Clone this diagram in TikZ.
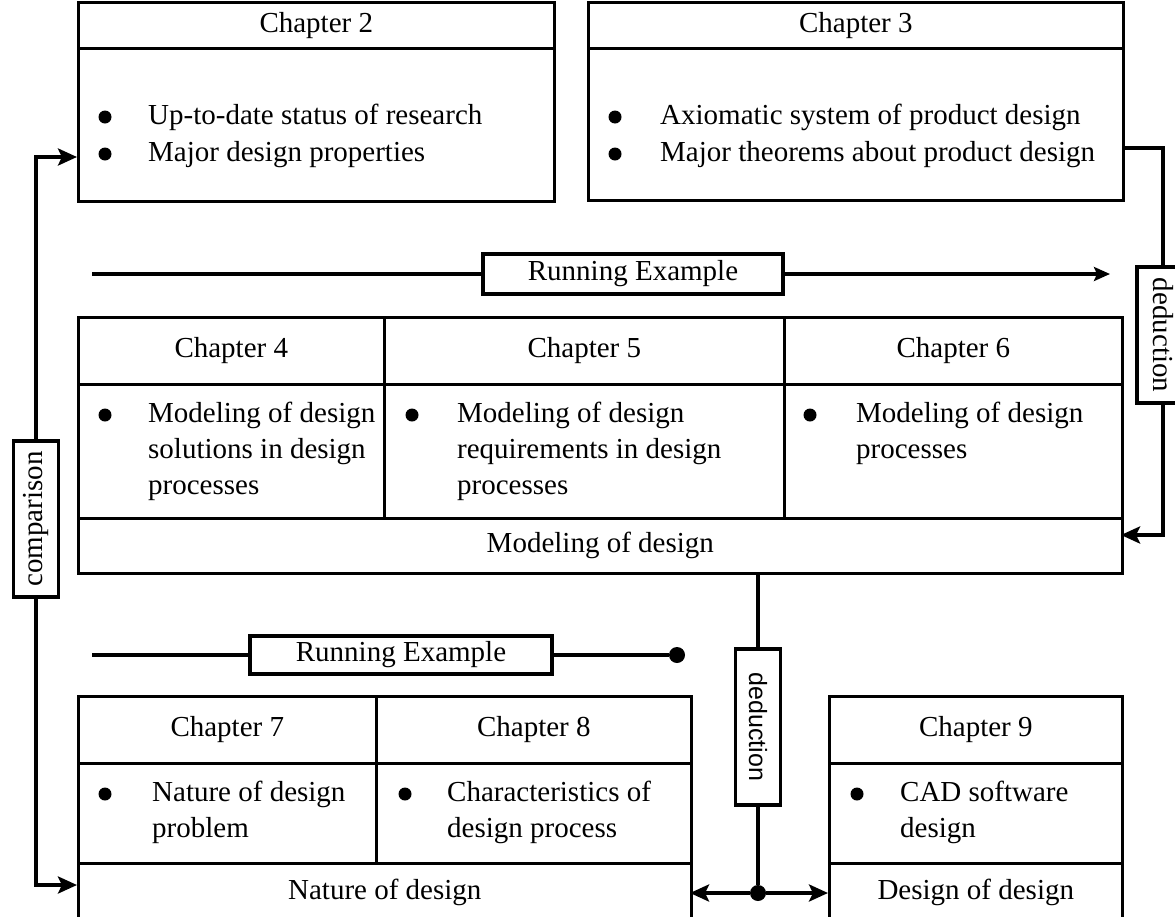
\documentclass[tikz,border=0pt]{standalone}
\usepackage{fontspec}
\setmainfont{Liberation Serif}
\newfontfamily\labsans{Liberation Sans}
\usetikzlibrary{arrows.meta}

\begin{document}
\begin{tikzpicture}[x=1pt,y=-1pt,
  font=\fontsize{29}{36}\selectfont,
  cell/.style={draw, line width=2.6pt, rectangle, inner sep=0pt, anchor=north west},
  conn/.style={line width=4.5pt},
  reline/.style={line width=3.6pt},
  tip/.style={-{Stealth[length=19pt,width=17pt,inset=4pt]}},
  smalltip/.style={-{Stealth[length=16pt,width=14pt,inset=3pt]}},
  bul/.style={circle, fill, inner sep=0pt, minimum size=13pt},
  body/.style={anchor=base west, align=left, inner sep=0pt},
  tag/.style={draw, fill=white, line width=3.6pt, inner sep=0pt},
  jdot/.style={circle, fill, inner sep=0pt, minimum size=16pt}
]
\useasboundingbox (0,0) rectangle (1175,916);

% ---- Chapter 2 ----
\node[cell, minimum width=476pt, minimum height=46pt] (c2h) at (77,1) {Chapter 2};
\node[cell, minimum width=476pt, minimum height=153pt] (c2b) at (77,47) {};
\node[bul] (b2a) at (105,117) {};
\node[bul] (b2b) at (105,154) {};
\node[body] (t2a) at (148,124) {Up-to-date status of research};
\node[body] (t2b) at (148,161) {Major design properties};

% ---- Chapter 3 ----
\node[cell, minimum width=535pt, minimum height=46pt] (c3h) at (587,1) {Chapter 3};
\node[cell, minimum width=535pt, minimum height=152pt] (c3b) at (587,47) {};
\node[bul] (b3a) at (615,117) {};
\node[bul] (b3b) at (615,154) {};
\node[body] (t3a) at (660,124) {Axiomatic system of product design};
\node[body] (t3b) at (660,161) {Major theorems about product design};

% ---- Chapters 4, 5, 6 : modeling of design ----
\node[cell, minimum width=306pt, minimum height=67pt] (c4h) at (77,316) {Chapter 4};
\node[cell, minimum width=400pt, minimum height=67pt] (c5h) at (383,316) {Chapter 5};
\node[cell, minimum width=338pt, minimum height=67pt] (c6h) at (783,316) {Chapter 6};
\node[cell, minimum width=306pt, minimum height=134pt] (c4b) at (77,383) {};
\node[cell, minimum width=400pt, minimum height=134pt] (c5b) at (383,383) {};
\node[cell, minimum width=338pt, minimum height=134pt] (c6b) at (783,383) {};
\node[cell, minimum width=1044pt, minimum height=55pt] (mod) at (77,517) {Modeling of design};
\node[bul] (b4) at (105,415) {};
\node[bul] (b5) at (412,415) {};
\node[bul] (b6) at (810,415) {};
% multi-line texts: the base anchor sits on the last line
\node[body] (t4) at (148,494) {Modeling of design\\solutions in design\\processes};
\node[body] (t5) at (457,494) {Modeling of design\\requirements in design\\processes};
\node[body] (t6) at (856,458) {Modeling of design\\processes};

% ---- Chapters 7, 8 : nature of design ----
\node[cell, minimum width=298pt, minimum height=67pt] (c7h) at (77,695) {Chapter 7};
\node[cell, minimum width=315pt, minimum height=67pt] (c8h) at (375,695) {Chapter 8};
\node[cell, minimum width=298pt, minimum height=100pt] (c7b) at (77,762) {};
\node[cell, minimum width=315pt, minimum height=100pt] (c8b) at (375,762) {};
\node[cell, minimum width=613pt, minimum height=58pt] (nat) at (77,862) {Nature of design};
\node[bul] (b7) at (105,794) {};
\node[bul] (b8) at (405,794) {};
\node[body] (t7) at (152,837) {Nature of design\\problem};
\node[body] (t8) at (447,837) {Characteristics of\\design process};

% ---- Chapter 9 : design of design ----
\node[cell, minimum width=293pt, minimum height=67pt] (c9h) at (828,695) {Chapter 9};
\node[cell, minimum width=293pt, minimum height=100pt] (c9b) at (828,762) {};
\node[cell, minimum width=293pt, minimum height=58pt] (dod) at (828,862) {Design of design};
\node[bul] (b9) at (857,794) {};
\node[body] (t9) at (900,837) {CAD software\\design};

% ---- running examples ----
\coordinate (re1a) at (92,274);
\coordinate (re1b) at (1110,274);
\node[tag, minimum width=300pt, minimum height=40pt] (re1) at (633,274) {Running Example};
\draw[reline] (re1a) -- (re1);
\draw[reline, smalltip] (re1) -- (re1b);

\coordinate (re2a) at (92,655);
\node[tag, minimum width=302pt, minimum height=38pt] (re2) at (401,655) {Running Example};
\node[jdot] (re2d) at (677,655) {};
\draw[reline] (re2a) -- (re2) -- (re2d);

% ---- comparison ----
\node[tag, rotate=90, minimum width=156pt, minimum height=45pt] (cmp) at (36,519) {comparison};
\coordinate (c2in) at (77,157);
\coordinate (natin) at (77,885);
\draw[conn, tip] (cmp) |- (c2in);
\draw[conn, tip] (cmp) |- (natin);

% ---- deduction from chapter 3 ----
\node[tag, rotate=-90, minimum width=136pt, minimum height=52pt] (ded1) at (1163,335) {deduction};
\coordinate (c3out) at (1122,148);
\coordinate (modin) at (1121,535);
\draw[conn] (c3out) -| (ded1);
\draw[conn, tip] (ded1) |- (modin);

% ---- deduction towards chapters 7--9 ----
\node[tag, rotate=-90, minimum width=156pt, minimum height=45pt, font=\labsans\fontsize{25}{30}\selectfont] (ded2) at (758,727) {deduction};
\coordinate (modout) at (758,572);
\node[jdot] (jn) at (758,893) {};
\coordinate (natout) at (690,893);
\coordinate (dodin) at (828,893);
\draw[conn] (modout) -- (ded2);
\draw[conn] (ded2) -- (jn);
\draw[conn, tip] (jn) -- (natout);
\draw[conn, tip] (jn) -- (dodin);
\end{tikzpicture}
\end{document}
